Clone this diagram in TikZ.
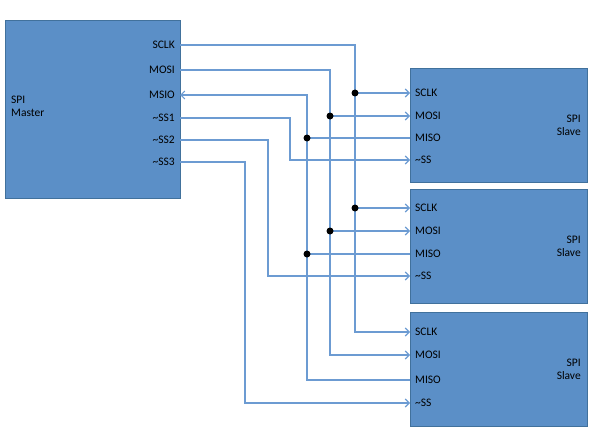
\documentclass[tikz,border=0pt]{standalone}
\usepackage{fontspec}
\setmainfont{Carlito}
\usetikzlibrary{arrows.meta}
\definecolor{boxfill}{HTML}{5B8FC7}
\definecolor{boxline}{HTML}{41719C}
\definecolor{wirec}{HTML}{6C9BD2}
\tikzset{>={Straight Barb[length=4pt,width=8pt]}}

\begin{document}
\begin{tikzpicture}[x=1pt,y=-1pt]
	\tikzstyle{unit} = [draw=boxline, fill=boxfill, line width=1pt, anchor=north west, inner sep=0pt]
	\tikzstyle{port} = [font=\fontsize{11.5}{13}\selectfont, inner sep=1pt]
	\tikzstyle{wire} = [draw=wirec, line width=1.1pt]
	\tikzstyle{dot} = [circle, fill=black, inner sep=0pt, minimum size=7pt]
	\useasboundingbox (0,0) rectangle (600,436);

%----------Master------------------------------
	\node[unit, minimum width=175pt, minimum height=178pt] (master) at (5,20) {};
	\node[port, anchor=west, align=left] (mname) at (10,106) {SPI\\Master};
	\foreach \name/\txt/\y in {sclk/SCLK/45, mosi/MOSI/70, miso/MSIO/95, ssa/\textasciitilde SS1/118, ssb/\textasciitilde SS2/140, ssc/\textasciitilde SS3/162}{
		\node[port, anchor=east] (l-\name) at (176,\y) {\txt};
		\coordinate (m-\name) at (180,\y);
	}

%----------Slaves------------------------------
	\foreach \s/\ytop/\ya/\yb/\yc/\yd in {1/68/93/116/138/160, 2/189/208/231/254/276, 3/312/332/355/380/403}{
		\node[unit, minimum width=177pt, minimum height=114pt] (slave\s) at (410,\ytop) {};
		\node[port, anchor=east, align=right] (sname\s) at (582,\ytop+57) {SPI\\Slave};
		\node[port, anchor=west] (l\s-sclk) at (414,\ya) {SCLK};
		\node[port, anchor=west] (l\s-mosi) at (414,\yb) {MOSI};
		\node[port, anchor=west] (l\s-miso) at (414,\yc) {MISO};
		\node[port, anchor=west] (l\s-ss) at (414,\yd) {\textasciitilde SS};
		\coordinate (s\s-sclk) at (410,\ya);
		\coordinate (s\s-mosi) at (410,\yb);
		\coordinate (s\s-miso) at (410,\yc);
		\coordinate (s\s-ss) at (410,\yd);
		% junctions on the buses
		\coordinate (j\s-sclk) at (355,\ya);
		\coordinate (j\s-mosi) at (330,\yb);
		\coordinate (j\s-miso) at (307,\yc);
	}

%----------Buses------------------------------
	\draw[wire, ->] (m-sclk) -| (j3-sclk) -- (s3-sclk);
	\draw[wire, ->] (m-mosi) -| (j3-mosi) -- (s3-mosi);
	\draw[wire, ->] (s3-miso) -- (j3-miso) |- (m-miso);
	\foreach \s in {1,2}{
		\draw[wire, ->] (j\s-sclk) -- (s\s-sclk);
		\draw[wire, ->] (j\s-mosi) -- (s\s-mosi);
		\draw[wire] (s\s-miso) -- (j\s-miso);
		\node[dot] at (j\s-sclk) {};
		\node[dot] at (j\s-mosi) {};
		\node[dot] at (j\s-miso) {};
	}

%----------Slave selects------------------------------
	\draw[wire, ->] (m-ssa) -| (290,160) -- (s1-ss);
	\draw[wire, ->] (m-ssb) -| (268,276) -- (s2-ss);
	\draw[wire, ->] (m-ssc) -| (245,403) -- (s3-ss);
\end{tikzpicture}
\end{document}
